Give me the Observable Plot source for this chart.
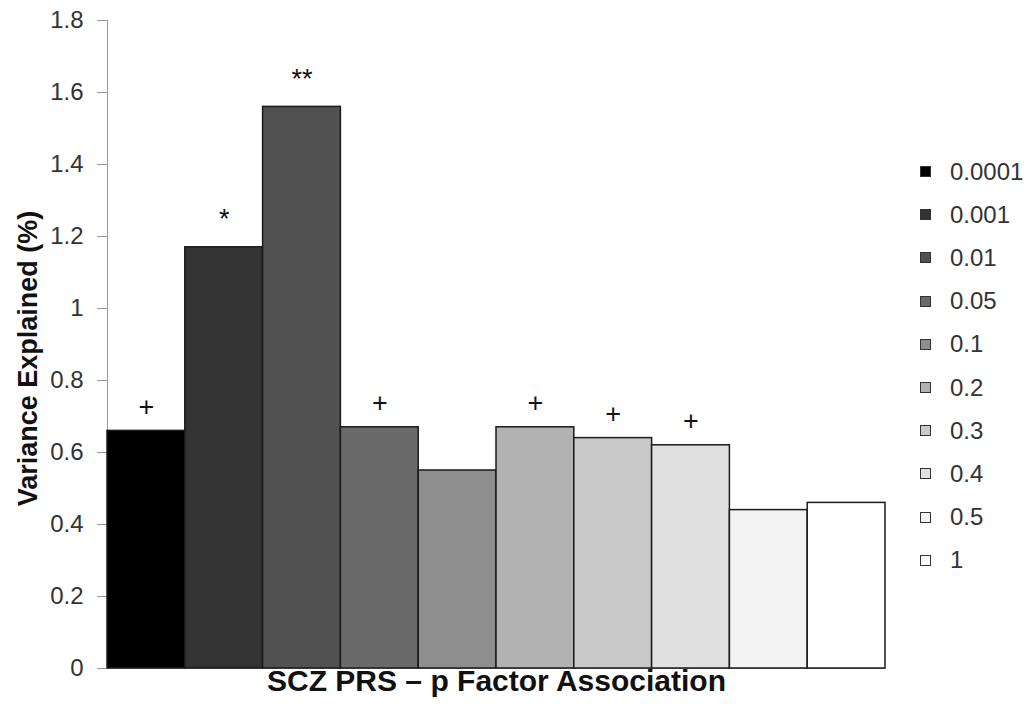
<!DOCTYPE html>
<html>
<head>
<meta charset="utf-8">
<script src="https://cdn.jsdelivr.net/npm/d3@7"></script>
<script src="https://cdn.jsdelivr.net/npm/@observablehq/plot@0.6"></script>
<style>
  html, body { margin: 0; padding: 0; background: #fff; }
  #chart { position: relative; width: 1034px; height: 707px; font-family: "Liberation Sans", Arial, sans-serif; }
  #legend { position: absolute; left: 920px; top: 150px; }
  .row { position: absolute; left: 0; height: 43px; display: flex; align-items: center; white-space: nowrap; }
  .sw { width: 11px; height: 11px; border: 1px solid #333; box-sizing: border-box; margin-right: 19px; }
  .lab { font-size: 24px; color: #333; }
</style>
</head>
<body>
<div id="chart"></div>
<script>
// P-value thresholds used to build the polygenic risk scores
const thresholds = ["0.0001", "0.001", "0.01", "0.05", "0.1", "0.2", "0.3", "0.4", "0.5", "1"];
// Variance in p factor explained (%) at each threshold
const variance = [0.66, 1.17, 1.56, 0.67, 0.55, 0.67, 0.64, 0.62, 0.44, 0.46];
// Significance markers above bars
const significance = ["+", "*", "**", "+", "", "+", "+", "+", "", ""];
// Grey ramp from darkest (strictest threshold) to white
const shades = ["#000000", "#333333", "#515151", "#6a6a6a", "#8e8e8e", "#b2b2b2", "#c9c9c9", "#e0e0e0", "#f3f3f3", "#ffffff"];
const yTicks = [0, 0.2, 0.4, 0.6, 0.8, 1, 1.2, 1.4, 1.6, 1.8];

const rows = thresholds.map((t, i) => ({threshold: t, value: variance[i], sig: significance[i]}));
const plus = rows.filter(d => d.sig === "+");
const stars = rows.filter(d => d.sig.startsWith("*"));

const chart = Plot.plot({
  width: 1034,
  height: 707,
  marginLeft: 107,
  marginRight: 149,
  marginTop: 20,
  marginBottom: 39,
  style: {fontFamily: "'Liberation Sans', Arial, sans-serif", background: "#fff"},
  x: {domain: thresholds, padding: 0, round: false, axis: null},
  y: {domain: [0, 1.8], axis: null},
  color: {domain: thresholds, range: shades},
  marks: [
    Plot.axisY({ticks: yTicks, tickSize: 10, tickPadding: 14, fontSize: 24, stroke: "#999", fill: "#333", label: null, tickFormat: d => String(d)}),
    Plot.frame({anchor: "left", stroke: "#999"}),
    Plot.ruleY([0], {stroke: "#999"}),
    Plot.barY(rows, {x: "threshold", y: "value", fill: "threshold", stroke: "#1a1a1a", strokeWidth: 1.5, inset: 0}),
    Plot.text(plus, {x: "threshold", y: "value", text: "sig", dy: -24, fontSize: 27, fill: "#111"}),
    Plot.text(stars, {x: "threshold", y: "value", text: "sig", dy: -28, fontSize: 27, fill: "#111"}),
    Plot.text(["SCZ PRS – p Factor Association"], {frameAnchor: "bottom", dy: 22, fontSize: 30, fontWeight: "bold", fill: "#111"}),
    Plot.text(["Variance Explained (%)"], {frameAnchor: "left", textAnchor: "middle", dx: -79, dy: 14, rotate: -90, fontSize: 27, fontWeight: "bold", fill: "#111"})
  ]
});

const root = document.getElementById("chart");
root.appendChild(chart);

// Vertical swatch legend on the right
const legend = document.createElement("div");
legend.id = "legend";
thresholds.forEach((t, i) => {
  const row = document.createElement("div");
  row.className = "row";
  row.style.top = (i * 43.2) + "px";
  const sw = document.createElement("div");
  sw.className = "sw";
  sw.style.background = shades[i];
  const lab = document.createElement("span");
  lab.className = "lab";
  lab.textContent = t;
  row.appendChild(sw);
  row.appendChild(lab);
  legend.appendChild(row);
});
root.appendChild(legend);
</script>
</body>
</html>
